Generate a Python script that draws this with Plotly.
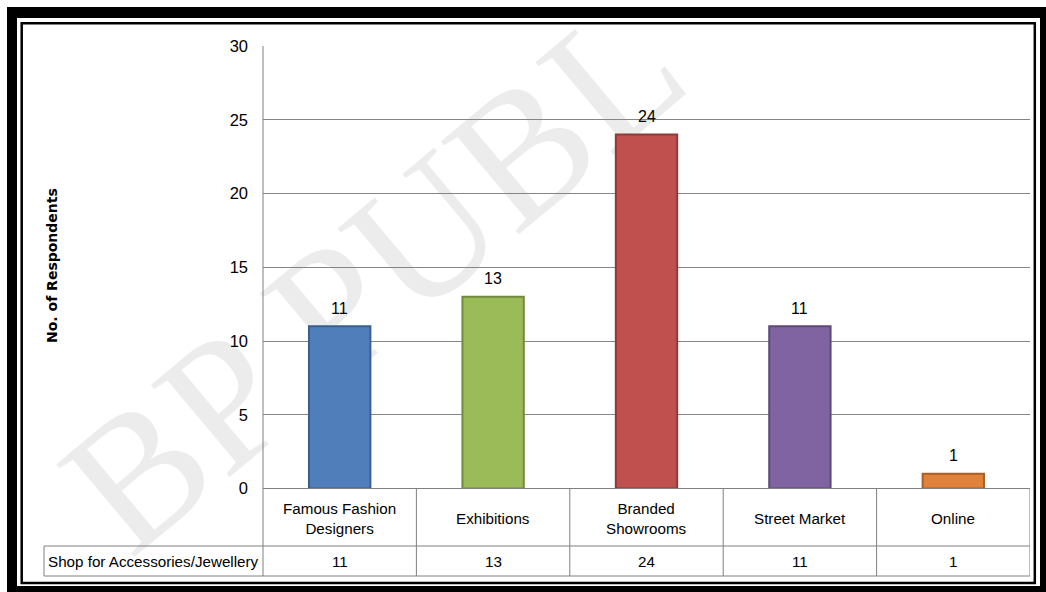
import plotly.graph_objects as go

# ---- data -------------------------------------------------------------
categories = ["Famous Fashion Designers", "Exhibitions", "Branded Showrooms",
              "Street Market", "Online"]
category_labels = ["Famous Fashion<br>Designers", "Exhibitions", "Branded<br>Showrooms",
                   "Street Market", "Online"]
respondents = [11, 13, 24, 11, 1]
series_name = "Shop for Accessories/Jewellery"
bar_colors = ["#4F7EBB", "#9BBB59", "#C0504D", "#8064A2", "#E0823A"]
edge_colors = ["#3A5F8E", "#718A40", "#8E3A38", "#5E4A78", "#A85F28"]
y_ticks = [0, 5, 10, 15, 20, 25, 30]

# ---- page geometry (pixels on a 1046 x 592 page) -----------------------
W, H = 1046, 592
PX = lambda x: x / W
PY = lambda y: 1 - y / H

plot_left, plot_right = 263, 1030
plot_top, plot_bottom = 46, 488.5
row1_bottom, row2_bottom = 546, 576
table_left = 44

TEXT_FONT = "Liberation Sans, Arial, sans-serif"

fig = go.Figure()

fig.add_trace(go.Bar(
    x=categories,
    y=respondents,
    width=0.4,
    marker=dict(color=bar_colors, line=dict(color=edge_colors, width=2)),
    showlegend=False,
    hoverinfo="x+y",
))

shapes = []
annotations = []
grey = "#808080"

# value labels above the bars
for cat, val in zip(categories, respondents):
    annotations.append(dict(x=cat, xref="x", y=val, yref="y", yshift=18,
                            text=str(val), showarrow=False,
                            font=dict(family=TEXT_FONT, size=16, color="#000000"),
                            xanchor="center", yanchor="middle"))

# watermark text behind everything
shapes.append(dict(
    type="rect", xref="paper", yref="paper",
    x0=PX(285), x1=PX(435), y0=PY(330), y1=PY(190),
    line=dict(width=0), fillcolor="rgba(0,0,0,0)", layer="below",
    label=dict(text="BP PUBL", textangle=-40,
               font=dict(family="Liberation Serif", size=185, color="#ECECEC"),
               textposition="middle center"),
))

# data table lines
def hline(y, x0, x1):
    shapes.append(dict(type="line", xref="paper", yref="paper",
                       x0=PX(x0), x1=PX(x1), y0=PY(y), y1=PY(y),
                       line=dict(color=grey, width=1)))

hline(plot_bottom, plot_left, plot_right)
hline(row1_bottom, table_left, plot_right)
hline(row2_bottom, table_left, plot_right)
shapes.append(dict(type="line", xref="paper", yref="paper",
                   x0=PX(table_left), x1=PX(table_left),
                   y0=PY(row1_bottom), y1=PY(row2_bottom),
                   line=dict(color=grey, width=1)))
shapes.append(dict(type="line", xref="paper", yref="paper",
                   x0=PX(plot_left), x1=PX(plot_left),
                   y0=PY(plot_top), y1=PY(row2_bottom),
                   line=dict(color=grey, width=1)))
for i in range(len(categories)):
    shapes.append(dict(type="line", xref="x", yref="paper",
                       x0=i + 0.5, x1=i + 0.5,
                       y0=PY(plot_bottom), y1=PY(row2_bottom),
                       line=dict(color=grey, width=1)))

# table text
cell_font = dict(family=TEXT_FONT, size=15.2, color="#000000")
for cat, lab, val in zip(categories, category_labels, respondents):
    annotations.append(dict(x=cat, xref="x", y=PY((plot_bottom + row1_bottom) / 2 + 1),
                            yref="paper", text=lab, showarrow=False,
                            font=cell_font, xanchor="center", yanchor="middle"))
    annotations.append(dict(x=cat, xref="x", y=PY((row1_bottom + row2_bottom) / 2),
                            yref="paper", text=str(val), showarrow=False,
                            font=cell_font, xanchor="center", yanchor="middle"))
annotations.append(dict(x=PX(table_left + 2), xref="paper",
                        y=PY((row1_bottom + row2_bottom) / 2), yref="paper",
                        text=series_name, showarrow=False, font=cell_font,
                        xanchor="left", yanchor="middle"))

# axis title
annotations.append(dict(x=PX(52), xref="paper", y=PY(266), yref="paper",
                        text="<b>No. of Respondents</b>", textangle=-90,
                        showarrow=False,
                        font=dict(family="DejaVu Sans", size=14, color="#000000"),
                        xanchor="center", yanchor="middle"))

# double frame round the page
black = "#000000"
for x0, y0, x1, y1 in [(7, 7, W, 18), (7, 7, 17, H), (1040, 7, W, H), (7, 586, W, H)]:
    shapes.append(dict(type="rect", xref="paper", yref="paper",
                       x0=PX(x0), x1=PX(x1), y0=PY(y0), y1=PY(y1),
                       line=dict(width=0), fillcolor=black, layer="above"))
shapes.append(dict(type="rect", xref="paper", yref="paper",
                   x0=PX(21.7), x1=PX(1034.8), y0=PY(23.3), y1=PY(583),
                   line=dict(color=black, width=2.5), fillcolor="rgba(0,0,0,0)",
                   layer="above"))

fig.update_layout(
    template="none",
    width=W, height=H, autosize=False,
    margin=dict(l=0, r=0, t=0, b=0, pad=0),
    paper_bgcolor="white", plot_bgcolor="white",
    shapes=shapes,
    annotations=annotations,
    xaxis=dict(domain=[PX(plot_left), PX(plot_right)], range=[-0.5, 4.5],
               showticklabels=False, showgrid=False, zeroline=False,
               showline=False, ticks="", automargin=False),
    yaxis=dict(domain=[PY(plot_bottom), PY(plot_top)], range=[0, 30],
               tickvals=y_ticks, showgrid=True, gridcolor="#858585", gridwidth=1,
               zeroline=False, showline=False, ticks="", automargin=False,
               ticklabelstandoff=14,
               tickfont=dict(family=TEXT_FONT, size=16.5, color="#000000")),
)

fig.write_html(
    "out.html",
    config={"displayModeBar": False},
    post_script="document.body.style.margin='0';document.body.style.overflow='hidden';",
)
